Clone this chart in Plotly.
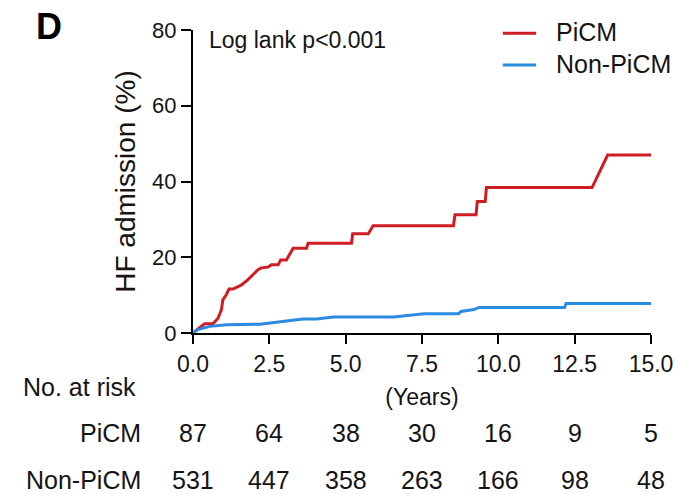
import plotly.graph_objects as go

# Cumulative HF admission (%)
t_picm = [0, 0.27, 0.38, 0.66, 0.82, 0.93, 0.98, 1.09, 1.18, 1.31, 1.59, 1.8, 2.02, 2.13, 2.24,
          2.46, 2.57, 2.79, 2.87, 3.06, 3.28, 3.72, 3.77, 5.19, 5.23, 5.74, 5.9, 8.53, 8.58,
          9.27, 9.31, 9.57, 9.61, 13.07, 13.58, 15.0]
v_picm = [0, 1.7, 2.45, 2.5, 3.9, 6.1, 8.8, 10.1, 11.6, 11.6, 12.7, 14.1, 15.8, 16.7, 17.2,
          17.4, 18.0, 18.0, 19.3, 19.3, 22.4, 22.4, 23.7, 23.7, 26.2, 26.2, 28.3, 28.3, 31.2,
          31.2, 34.7, 34.7, 38.4, 38.4, 47.0, 47.0]

t_non = [0, 0.16, 0.55, 1.09, 2.19, 2.73, 3.6, 4.05, 4.59, 6.56, 7.43, 7.58, 8.7, 8.78,
         9.2, 9.37, 12.17, 12.22, 15.0]
v_non = [0, 0.9, 1.75, 2.2, 2.3, 2.8, 3.7, 3.7, 4.2, 4.2, 4.8, 5.1, 5.1, 5.7,
         6.2, 6.75, 6.75, 7.8, 7.8]

x_ticks = [0, 2.5, 5.0, 7.5, 10.0, 12.5, 15.0]
x_tick_text = ["0.0", "2.5", "5.0", "7.5", "10.0", "12.5", "15.0"]
y_ticks = [0, 20, 40, 60, 80]

risk_times = [0, 2.5, 5.0, 7.5, 10.0, 12.5, 15.0]
risk_picm = [87, 64, 38, 30, 16, 9, 5]
risk_non = [531, 447, 358, 263, 166, 98, 48]

series_names = ["PiCM", "Non-PiCM"]

RED = "#cf1d24"
BLUE = "#2a8be0"
TXT = "#141414"
FONT = "Liberation Sans, Arial, sans-serif"

fig = go.Figure()
fig.add_trace(go.Scatter(x=t_picm, y=v_picm, mode="lines", name=series_names[0],
                         line=dict(color=RED, width=3), showlegend=False))
fig.add_trace(go.Scatter(x=t_non, y=v_non, mode="lines", name=series_names[1],
                         line=dict(color=BLUE, width=3), showlegend=False))

annotations = []
shapes = []

# Legend (drawn manually to match the reference layout)
legend_rows = [(series_names[0], RED, 0.989), (series_names[1], BLUE, 0.8846)]
for name, col, ly in legend_rows:
    shapes.append(dict(type="line", xref="paper", yref="paper",
                       x0=0.6764, x1=0.7492, y0=ly, y1=ly,
                       line=dict(color=col, width=3)))
    annotations.append(dict(text=name, x=0.7886, y=ly + 0.003, xref="paper", yref="paper",
                            xanchor="left", yanchor="middle", showarrow=False,
                            font=dict(size=25, color=TXT, family=FONT)))

annotations.append(dict(text="<b>D</b>", x=-0.3155, y=1.012, xref="paper", yref="paper",
                        xanchor="center", yanchor="middle", showarrow=False,
                        font=dict(size=36, color="black", family=FONT)))
annotations.append(dict(text="Log lank p<0.001", x=0.031, y=0.967, xref="paper", yref="paper",
                        xanchor="left", yanchor="middle", showarrow=False,
                        font=dict(size=23, color=TXT, family=FONT)))
annotations.append(dict(text="No. at risk", x=-0.375, y=-0.179, xref="paper", yref="paper",
                        xanchor="left", yanchor="middle", showarrow=False,
                        font=dict(size=25, color=TXT, family=FONT)))
row_y = {"PiCM": -0.329, "Non-PiCM": -0.484}
for label, vals in ((series_names[0], risk_picm), (series_names[1], risk_non)):
    annotations.append(dict(text=label, x=-0.1093, y=row_y[label], xref="paper", yref="paper",
                            xanchor="right", yanchor="middle", showarrow=False,
                            font=dict(size=25, color=TXT, family=FONT)))
    for t, n in zip(risk_times, vals):
        annotations.append(dict(text=str(n), x=t, y=row_y[label], xref="x", yref="paper",
                                xanchor="center", yanchor="middle", showarrow=False,
                                font=dict(size=25, color=TXT, family=FONT)))

fig.update_layout(
    width=679, height=494, autosize=False,
    margin=dict(l=193, r=28, t=30, b=161, pad=0),
    paper_bgcolor="white", plot_bgcolor="white",
    font=dict(family=FONT, color=TXT),
    showlegend=False,
    xaxis=dict(range=[0, 15], tickvals=x_ticks, ticktext=x_tick_text,
               showline=True, linecolor="black", linewidth=2, mirror=False,
               ticks="outside", ticklen=9, tickwidth=2, tickcolor="black",
               showgrid=False, zeroline=False, automargin=False,
               tickfont=dict(size=23, color=TXT, family=FONT),
               title=dict(text="(Years)", font=dict(size=23, color=TXT, family=FONT), standoff=13)),
    yaxis=dict(range=[0, 80], tickvals=y_ticks,
               showline=True, linecolor="black", linewidth=2,
               ticks="outside", ticklen=10, tickwidth=2, tickcolor="black",
               showgrid=False, zeroline=False, automargin=False,
               tickfont=dict(size=22, color=TXT, family=FONT),
               title=dict(text="HF admission (%)", font=dict(size=28, color=TXT, family=FONT), standoff=8)),
    annotations=annotations,
    shapes=shapes,
)

# Remove the default 8px page margin so the 679x494 figure fills the window exactly
fig.write_html("out.html",
               config={"displayModeBar": False},
               post_script="document.body.style.margin='0px';document.body.style.overflow='hidden';")
